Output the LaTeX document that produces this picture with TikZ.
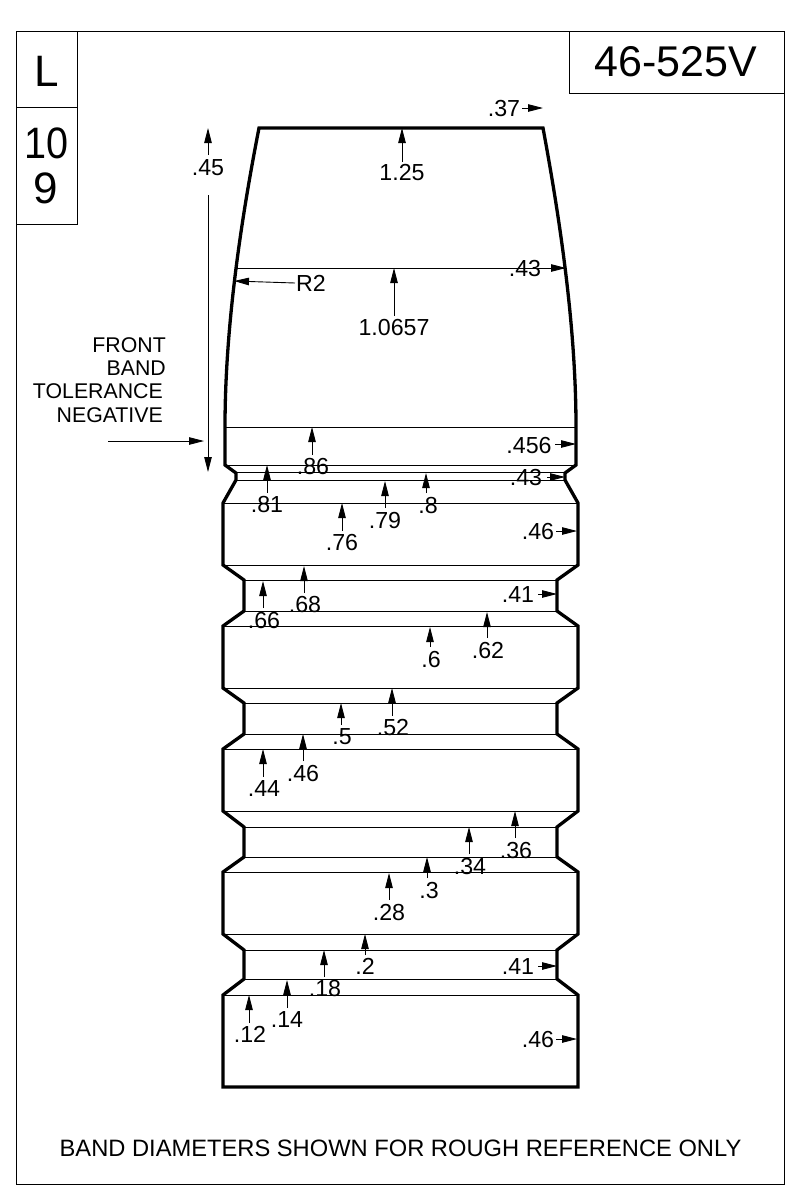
\documentclass[tikz,border=0pt]{standalone}
\usepackage{fontspec}
\setmainfont{Liberation Sans}
\usetikzlibrary{arrows.meta}
\tikzset{
  lbl/.style={inner sep=0pt,yshift=-0.7pt,font=\fontsize{23.2}{23.2}\selectfont},
  note/.style={inner sep=0pt,font=\fontsize{21.3}{21.3}\selectfont},
  big/.style={inner sep=0pt,font=\fontsize{44}{44}\selectfont},
  thin line/.style={line width=1pt},
  thick line/.style={line width=3.3pt,line join=miter},
  dim/.style={line width=0.9pt,-{Stealth[length=15pt,width=7.5pt,inset=0pt]}}
}
\begin{document}
\begin{tikzpicture}[x=1pt,y=-1pt]
\useasboundingbox (0,0) rectangle (800,1200);
% frame and title boxes
\draw[thin line] (16,31) rectangle (784,1184);
\draw[thin line] (16,224) -| (77,31) (16,107) -- (77,107);
\draw[thin line] (569,31) |- (784,93);
\draw (47,71) node[big](cal){L} (47,143) node[big,xscale=0.9](bandn){10} (46,188) node[big](grooven){9}
      (676,62) node[big,font=\fontsize{43}{43}\selectfont](mold){46-525V}
      (400.5,1148) node[lbl,yshift=0.7pt,font=\fontsize{23.7}{23.7}\selectfont](foot){BAND DIAMETERS SHOWN FOR ROUGH REFERENCE ONLY};

% bands, thin lines
\draw[thin line]
  (235,268) -- (566,268)  (225,427) -- (576,427)  (225,465) -- (576,465)
  (236,472) -- (565,472)  (236,480) -- (565,480)  (223,503) -- (578,503)
  (223,565) -- (578,565)  (244,580) -- (557,580)  (244,611) -- (557,611)
  (223,626) -- (578,626)  (223,688) -- (578,688)  (244,703) -- (557,703)
  (244,734) -- (557,734)  (223,749) -- (578,749)  (223,811) -- (578,811)
  (244,827) -- (557,827)  (244,857) -- (557,857)  (223,872) -- (578,872)
  (223,934) -- (578,934)  (244,950) -- (557,950)  (244,979) -- (557,979)
  (223,995) -- (578,995);

% bullet outline
\draw[thick line] (259,128) -- (543,128)
  .. controls (561,225) and (576,330) .. (576,427) -- (576,465) -- (565,473) -- (565,480)
  -- (578,503) -- (578,565) -- (557,580) -- (557,611) -- (578,626)
  -- (578,688) -- (557,703) -- (557,734) -- (578,749)
  -- (578,811) -- (557,827) -- (557,857) -- (578,872)
  -- (578,934) -- (557,950) -- (557,979) -- (578,995)
  -- (578,1087) -- (223,1087) -- (223,995)
  -- (244,979) -- (244,950) -- (223,934) -- (223,872)
  -- (244,857) -- (244,827) -- (223,811) -- (223,749)
  -- (244,734) -- (244,703) -- (223,688) -- (223,626)
  -- (244,611) -- (244,580) -- (223,565) -- (223,503)
  -- (236,480) -- (236,473) -- (225,465) -- (225,427)
  .. controls (225,330) and (240,225) .. (259,128) -- cycle;

% length labels
\draw (402,172) node[lbl](l125){1.25}    (394,327) node[lbl](l10657){1.0657}
      (313,466) node[lbl](l86){.86}      (267,504) node[lbl](l81){.81}
      (385,520) node[lbl](l79){.79}      (428,505) node[lbl](l8){.8}
      (342,542) node[lbl](l76){.76}      (305,604) node[lbl](l68){.68}
      (264,620) node[lbl](l66){.66}      (431,659) node[lbl](l6){.6}
      (488,650) node[lbl](l62){.62}      (393,727) node[lbl](l52){.52}
      (342,736) node[lbl](l5){.5}        (303,773) node[lbl](l46){.46}
      (264,788) node[lbl](l44){.44}      (516,850) node[lbl](l36){.36}
      (470,866) node[lbl](l34){.34}      (429,890) node[lbl](l3){.3}
      (389,912) node[lbl](l28){.28}      (365,966) node[lbl](l2){.2}
      (325,988) node[lbl](l18){.18}      (287,1019) node[lbl](l14){.14}
      (250,1034) node[lbl](l12){.12}     (208,167) node[lbl](l45){.45};

% arrow ends
\draw (402,128) coordinate(a125)  (402,162) coordinate(b125)  (394,268) coordinate(a10657) (394,316) coordinate(b10657)
      (312,427) coordinate(a86)   (312,455) coordinate(b86)   (267,465) coordinate(a81)    (267,493) coordinate(b81)
      (385,481) coordinate(a79)   (385,508) coordinate(b79)   (426,473) coordinate(a8)     (426,493) coordinate(b8)
      (342,503) coordinate(a76)   (342,531) coordinate(b76)   (304,566) coordinate(a68)    (304,593) coordinate(b68)
      (263,581) coordinate(a66)   (263,608) coordinate(b66)   (430,627) coordinate(a6)     (430,647) coordinate(b6)
      (487,612) coordinate(a62)   (487,638) coordinate(b62)   (392,688) coordinate(a52)    (392,716) coordinate(b52)
      (341,703) coordinate(a5)    (341,725) coordinate(b5)    (303,734) coordinate(a46)    (303,761) coordinate(b46)
      (263,749) coordinate(a44)   (263,777) coordinate(b44)   (515,811) coordinate(a36)    (515,838) coordinate(b36)
      (469,827) coordinate(a34)   (469,854) coordinate(b34)   (427,857) coordinate(a3)     (427,878) coordinate(b3)
      (389,873) coordinate(a28)   (389,900) coordinate(b28)   (365,934) coordinate(a2)     (365,955) coordinate(b2)
      (324,950) coordinate(a18)   (324,977) coordinate(b18)   (287,980) coordinate(a14)    (287,1008) coordinate(b14)
      (249,995) coordinate(a12)   (249,1023) coordinate(b12)  (208,128) coordinate(a45)    (208,155) coordinate(b45)
      (208,472) coordinate(c45)   (208,195) coordinate(d45);
\path[dim]
    (b125) edge (a125)      (b10657) edge (a10657)
    (b86) edge (a86)        (b81) edge (a81)
    (b79) edge (a79)        (b8) edge (a8)
    (b76) edge (a76)        (b68) edge (a68)
    (b66) edge (a66)        (b6) edge (a6)
    (b62) edge (a62)        (b52) edge (a52)
    (b5) edge (a5)          (b46) edge (a46)
    (b44) edge (a44)        (b36) edge (a36)
    (b34) edge (a34)        (b3) edge (a3)
    (b28) edge (a28)        (b2) edge (a2)
    (b18) edge (a18)        (b14) edge (a14)
    (b12) edge (a12)        (b45) edge (a45)
    (d45) edge (c45);

% diameters on the right side
\draw (504,108) node[lbl](r37){.37}     (525,268) node[lbl](r43a){.43}
      (529,445) node[lbl](r456){.456}   (526,477) node[lbl](r43b){.43}
      (538,531) node[lbl](r46a){.46}    (518,594) node[lbl](r41a){.41}
      (518,966) node[lbl](r41b){.41}    (538,1039) node[lbl](r46b){.46}
      (522,108) coordinate(s37)   (543,108) coordinate(t37)
      (543,268) coordinate(s43a)  (566,268) coordinate(t43a)
      (555,444) coordinate(s456)  (576,444) coordinate(t456)
      (547,477) coordinate(s43b)  (565,477) coordinate(t43b)
      (556,531) coordinate(s46a)  (577,531) coordinate(t46a)
      (538,594) coordinate(s41a)  (557,594) coordinate(t41a)
      (538,966) coordinate(s41b)  (557,966) coordinate(t41b)
      (556,1039) coordinate(s46b) (577,1039) coordinate(t46b);
\path[dim]
    (s37) edge (t37)    (s43a) edge (t43a)
    (s456) edge (t456)  (s43b) edge (t43b)
    (s46a) edge (t46a)  (s41a) edge (t41a)
    (s41b) edge (t41b)  (s46b) edge (t46b);

% radius and front band note
\draw (311,283) node[lbl](rad){R2}
      (295,283) coordinate(srad)  (234,281) coordinate(trad)
      (166,345) node[note,anchor=east](nfront){FRONT}
      (166,368) node[note,anchor=east](nband){BAND}
      (163,391) node[note,anchor=east](ntol){TOLERANCE}
      (163,415) node[note,anchor=east](nneg){NEGATIVE}
      (108,441) coordinate(sfront)  (204,441) coordinate(tfront);
\path[dim]
    (srad) edge (trad)
    (sfront) edge (tfront);
\end{tikzpicture}
\end{document}
